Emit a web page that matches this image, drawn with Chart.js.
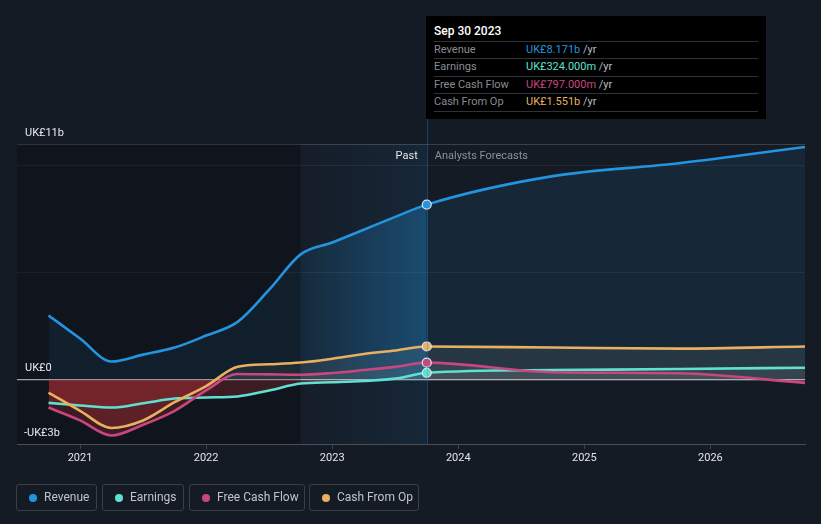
<!DOCTYPE html>
<html>
<head>
<meta charset="utf-8">
<script src="https://cdn.jsdelivr.net/npm/chart.js@4/dist/chart.umd.min.js"></script>
<style>
  html, body { margin: 0; padding: 0; background: #151b25; width: 821px; height: 524px; overflow: hidden; font-family: Roboto, "Noto Sans", sans-serif; }
  #wrap { position: relative; width: 821px; height: 524px; }
  canvas { position: absolute; left: 0; top: 0; }
  .tip { position: absolute; left: 426px; top: 16px; width: 340px; height: 103px; background: #000; }
  .tip .title { position: absolute; left: 8px; top: 8px; font-size: 12px; font-weight: 500; color: #fff; }
  .tip .sep { position: absolute; left: 8px; width: 324px; height: 1px; background: #2f3338; }
  .tip .row { position: absolute; left: 8px; font-size: 11px; color: #878c93; line-height: 13px; }
  .tip .val { position: absolute; left: 92px; top: 0; white-space: nowrap; }
  .tip .yr { color: #b9bdc3; }
  .legend { position: absolute; top: 484px; height: 27px; box-sizing: border-box; border: 1px solid #3a3f47; border-radius: 3px; font-size: 12px; color: #c0c4ca; line-height: 25px; }
  .legend .dot { position: absolute; left: 12px; top: 9px; width: 8px; height: 8px; border-radius: 50%; }
  .legend .txt { position: absolute; left: 27px; top: 0; white-space: nowrap; }
</style>
</head>
<body>
<div id="wrap">
  <canvas id="c" width="821" height="524"></canvas>
  <div class="tip">
    <div class="title">Sep 30 2023</div>
    <div class="sep" style="top:25px"></div>
    <div class="row" style="top:27px">Revenue<span class="val"><span style="color:#2394df">UK£8.171b</span> <span class="yr">/yr</span></span></div>
    <div class="sep" style="top:42px"></div>
    <div class="row" style="top:44px">Earnings<span class="val"><span style="color:#5fe0d0">UK£324.000m</span> <span class="yr">/yr</span></span></div>
    <div class="sep" style="top:60px"></div>
    <div class="row" style="top:62px">Free Cash Flow<span class="val"><span style="color:#c9467f">UK£797.000m</span> <span class="yr">/yr</span></span></div>
    <div class="sep" style="top:77px"></div>
    <div class="row" style="top:79px">Cash From Op<span class="val"><span style="color:#e8b060">UK£1.551b</span> <span class="yr">/yr</span></span></div>
    <div class="sep" style="top:95px"></div>
  </div>
  <div class="legend" style="left:16px;width:81px"><span class="dot" style="background:#2394df"></span><span class="txt">Revenue</span></div>
  <div class="legend" style="left:102px;width:82px"><span class="dot" style="background:#5fe0d0"></span><span class="txt">Earnings</span></div>
  <div class="legend" style="left:189px;width:116px"><span class="dot" style="background:#c9467f"></span><span class="txt">Free Cash Flow</span></div>
  <div class="legend" style="left:309px;width:110px"><span class="dot" style="background:#e8b060"></span><span class="txt">Cash From Op</span></div>
</div>
<script>
// ---- data (UK£ billions, x = decimal year) ----
const dates    = [2020.75, 2021.0, 2021.25, 2021.5, 2021.75, 2022.0, 2022.25, 2022.5, 2022.75, 2023.0, 2023.25, 2023.5, 2023.75, 2024.75, 2025.75, 2026.75];
const revenue  = [3.0, 1.92, 0.85, 1.17, 1.5, 2.06, 2.7, 4.2, 5.85, 6.4, 7.0, 7.6, 8.171, 9.5, 10.1, 10.86];
const earnings = [-1.08, -1.2, -1.3, -1.1, -0.88, -0.83, -0.78, -0.5, -0.18, -0.12, -0.06, 0.05, 0.324, 0.45, 0.5, 0.56];
const fcf      = [-1.3, -1.9, -2.6, -2.1, -1.45, -0.5, 0.27, 0.25, 0.23, 0.31, 0.45, 0.6, 0.797, 0.35, 0.3, -0.15];
const cfo      = [-0.6, -1.45, -2.25, -1.9, -1.05, -0.3, 0.6, 0.72, 0.8, 0.98, 1.2, 1.36, 1.551, 1.5, 1.45, 1.55];
const xTicks   = [2021, 2022, 2023, 2024, 2025, 2026];
const yTicks   = [-3, 0, 5, 10, 11];
const yLabels  = [[11, 'UK£11b'], [0, 'UK£0'], [-3, '-UK£3b']];
const pastStart = 2022.75, pastEnd = 2023.75;
const nowIndex = 12;

const C = { rev: '#2394df', earn: '#5fe0d0', fcf: '#c9467f', cfo: '#e8b060' };
const pts = arr => arr.map((v, i) => ({ x: dates[i], y: v }));

function revFill(ctx) {
  const chart = ctx.chart, ca = chart.chartArea;
  if (!ca) return 'rgba(35,148,223,0.1)';
  const xs = chart.scales.x;
  const g = chart.ctx.createLinearGradient(ca.left, 0, ca.right, 0);
  const f = v => Math.min(1, Math.max(0, (xs.getPixelForValue(v) - ca.left) / (ca.right - ca.left)));
  g.addColorStop(0, 'rgba(35,148,223,0.10)');
  g.addColorStop(f(pastStart), 'rgba(35,148,223,0.10)');
  g.addColorStop(f(pastEnd) - 0.001, 'rgba(35,148,223,0.33)');
  g.addColorStop(f(pastEnd), 'rgba(35,148,223,0.10)');
  g.addColorStop(1, 'rgba(35,148,223,0.10)');
  return g;
}

const negFill = 'rgba(225,58,68,0.27)';
const posFill = 'rgba(160,160,150,0.13)';

function ds(label, data, color, order, fill) {
  return {
    label, data: pts(data), borderColor: color, backgroundColor: color,
    borderWidth: 2.6, cubicInterpolationMode: 'monotone', fill, order,
    pointRadius: c => c.dataIndex === nowIndex ? 4.5 : 0,
    pointHoverRadius: 0, pointBackgroundColor: color, pointBorderColor: '#e6e6e6', pointBorderWidth: 1.2
  };
}

const bgPlugin = {
  id: 'bg',
  beforeDatasetsDraw(chart) {
    const { ctx, chartArea: ca, scales: { x } } = chart;
    const x0 = x.getPixelForValue(pastStart), x1 = x.getPixelForValue(pastEnd);
    ctx.save();
    ctx.fillStyle = 'rgba(0,0,0,0.2)';
    ctx.fillRect(ca.left, ca.top, x0 - ca.left, ca.bottom - ca.top);
    const g = ctx.createLinearGradient(x0, 0, x1, 0);
    g.addColorStop(0, 'rgba(35,148,223,0.02)');
    g.addColorStop(1, 'rgba(35,148,223,0.10)');
    ctx.fillStyle = g;
    ctx.fillRect(x0, ca.top, x1 - x0, ca.bottom - ca.top);
    ctx.restore();
  },
  afterDraw(chart) {
    const { ctx, chartArea: ca, scales: { x, y } } = chart;
    const x1 = x.getPixelForValue(pastEnd);
    ctx.save();
    ctx.strokeStyle = 'rgba(35,148,223,0.35)';
    ctx.lineWidth = 1;
    ctx.beginPath();
    ctx.moveTo(Math.round(x1) + 0.5, 119);
    ctx.lineTo(Math.round(x1) + 0.5, ca.bottom);
    ctx.stroke();
    ctx.font = '11px Roboto, "Noto Sans", sans-serif';
    ctx.textBaseline = 'middle';
    ctx.textAlign = 'right';
    ctx.fillStyle = '#e4e6e9';
    ctx.fillText('Past', x1 - 9, y.getPixelForValue(11) + 12);
    ctx.textAlign = 'left';
    ctx.fillStyle = '#8b9098';
    ctx.fillText('Analysts Forecasts', x1 + 8, y.getPixelForValue(11) + 12);
    ctx.fillStyle = '#e8eaed';
    for (const [v, t] of yLabels) {
      ctx.fillText(t, ca.left + (v < 0 ? 7 : 8), y.getPixelForValue(v) - 11);
    }
    ctx.restore();
  }
};

new Chart(document.getElementById('c'), {
  type: 'line',
  data: {
    datasets: [
      ds('Revenue', revenue, C.rev, 1, { target: 'origin', above: revFill, below: 'rgba(35,148,223,0.1)' }),
      ds('Earnings', earnings, C.earn, 4, { target: 'origin', above: posFill, below: negFill }),
      ds('Free Cash Flow', fcf, C.fcf, 3, { target: 'origin', above: posFill, below: negFill }),
      ds('Cash From Op', cfo, C.cfo, 2, { target: 'origin', above: posFill, below: negFill })
    ]
  },
  options: {
    responsive: false, animation: false, events: [],
    layout: { padding: { left: 17, right: 16, top: 144, bottom: 0 } },
    plugins: { legend: { display: false }, tooltip: { enabled: false }, filler: { drawTime: 'beforeDatasetsDraw' } },
    scales: {
      x: {
        type: 'linear', min: 2020.5, max: 2026.75,
        afterBuildTicks: s => { s.ticks = xTicks.map(v => ({ value: v })); },
        afterFit: s => { s.height = 80; },
        grid: { drawOnChartArea: false, drawTicks: true, tickLength: 5, color: '#3d424a' },
        border: { color: '#4a4f57' },
        ticks: { color: '#e2e4e7', padding: 3, font: { family: 'Roboto', size: 11 }, callback: v => String(v), maxRotation: 0 }
      },
      y: {
        min: -3, max: 11,
        afterBuildTicks: s => { s.ticks = yTicks.map(v => ({ value: v })); },
        afterFit: s => { s.width = 0; },
        ticks: { display: false },
        border: { display: false },
        grid: {
          drawTicks: false,
          color: c => c.tick.value === 0 ? '#c9cdd2' : c.tick.value === 11 ? '#3b4048' : c.tick.value === -3 ? '#474c54' : '#222932',
          lineWidth: c => c.tick.value === 0 ? 1.3 : 1
        }
      }
    }
  },
  plugins: [bgPlugin]
});
</script>
</body>
</html>
